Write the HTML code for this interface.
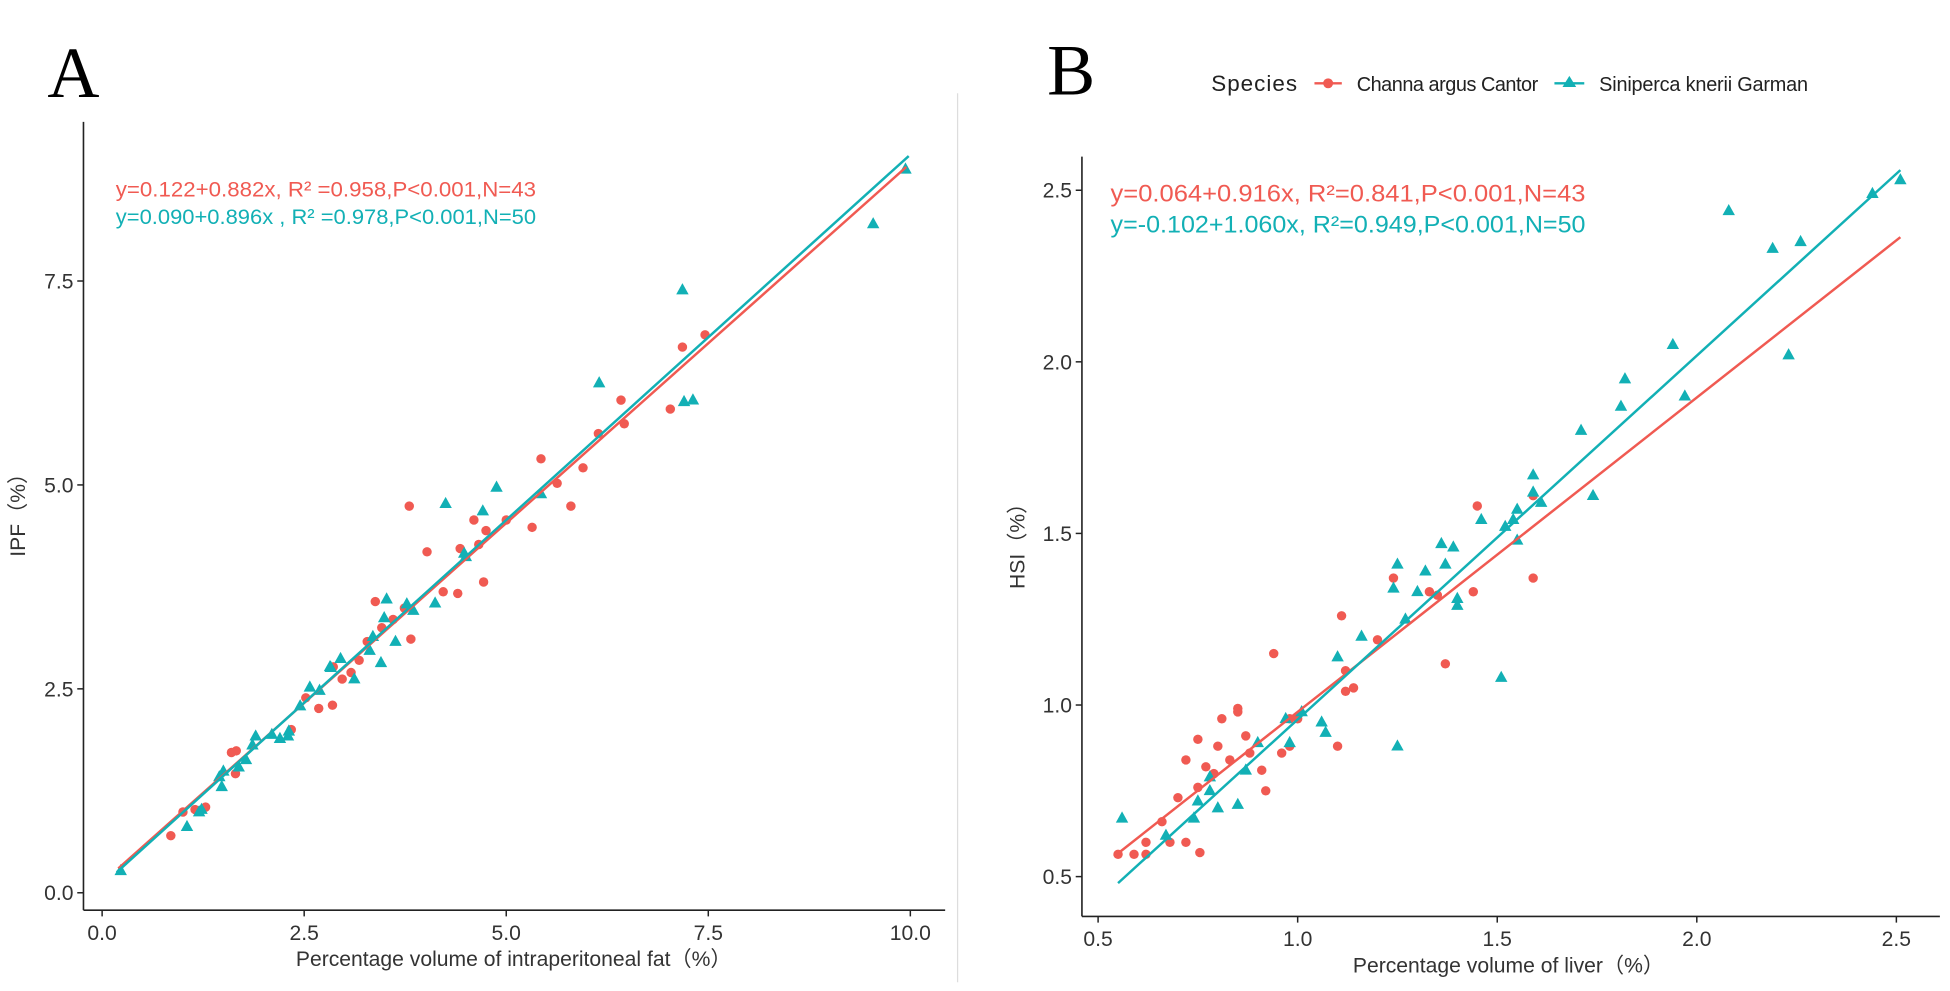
<!DOCTYPE html>
<html><head><meta charset="utf-8"><style>
html,body{margin:0;padding:0;background:#fff;width:1950px;height:991px;overflow:hidden}
svg{display:block;font-family:"Liberation Sans",sans-serif}
</style></head><body>
<svg id="chart" width="1950" height="991" viewBox="0 0 1568 797">
<line x1="770" y1="75" x2="770" y2="790" stroke="#ddd" stroke-width="1"/>
<text x="38" y="78" font-family="Liberation Serif,serif" font-size="58">A</text>
<text x="842" y="76" font-family="Liberation Serif,serif" font-size="58">B</text>
<g>
<text x="974" y="73" font-size="18" fill="#222" textLength="69">Species</text>
<g><line x1="1057" y1="67" x2="1079" y2="67" stroke="#F05A52" stroke-width="2"/><circle cx="1068" cy="67" r="4" fill="#F05A52"/><text x="1091" y="73" font-size="16" fill="#222" textLength="146">Channa argus Cantor</text></g>
<g><line x1="1250" y1="67" x2="1274" y2="67" stroke="#12B0B5" stroke-width="2"/><path d="M1262,61 L1267.5,70 L1256.5,70Z" fill="#12B0B5"/><text x="1286" y="73" font-size="16" fill="#222" textLength="168">Siniperca knerii Garman</text></g>
</g>
<g id="pa"></g>
<g id="pb"></g>
</svg>
<script>
const aXTicks=[0,2.5,5,7.5,10];
const aXTickLabels=["0.0","2.5","5.0","7.5","10.0"];
const aYTicks=[0,2.5,5,7.5];
const aYTickLabels=["0.0","2.5","5.0","7.5"];
const aRedX=[0.85,1.0,1.15,1.28,1.6,1.66,1.65,2.34,2.68,2.85,2.86,2.97,3.08,3.28,3.38,3.46,3.6,3.82,3.8,4.02,4.22,4.4,4.43,4.6,4.66,4.72,4.75,5.0,5.32,5.43,5.63,5.8,5.95,6.14,6.42,6.46,7.03,7.18,7.46,2.52,3.74,3.18];
const aRedY=[0.70,0.99,1.02,1.05,1.72,1.74,1.46,2.0,2.26,2.30,2.77,2.62,2.7,3.08,3.57,3.25,3.35,3.11,4.74,4.18,3.69,3.67,4.22,4.57,4.27,3.81,4.44,4.57,4.48,5.32,5.02,4.74,5.21,5.63,6.04,5.75,5.93,6.69,6.84,2.39,3.49,2.85];
const aTealX=[0.23,1.05,1.2,1.48,1.5,1.78,1.86,1.9,2.1,2.31,2.45,2.57,2.69,2.83,2.95,3.12,3.31,3.45,3.49,3.52,3.63,3.77,3.85,4.12,4.25,4.48,4.71,4.88,5.43,6.15,7.18,7.2,7.31,9.54,9.94,1.69,1.45,1.23,2.2,2.82,3.35,4.5,2.3];
const aTealY=[0.27,0.81,0.99,1.3,1.49,1.63,1.81,1.92,1.94,1.98,2.29,2.52,2.48,2.76,2.87,2.62,2.97,2.82,3.37,3.6,3.08,3.54,3.46,3.55,4.77,4.16,4.68,4.97,4.89,6.25,7.39,6.02,6.04,8.2,8.87,1.54,1.42,1.02,1.89,2.77,3.14,4.12,1.92];
const aRedFit=[0.122,0.882,0.2,9.95];
const aTealFit=[0.090,0.896,0.18,9.98];

const bXTicks=[0.5,1.0,1.5,2.0,2.5];
const bXTickLabels=["0.5","1.0","1.5","2.0","2.5"];
const bYTicks=[0.5,1.0,1.5,2.0,2.5];
const bYTickLabels=["0.5","1.0","1.5","2.0","2.5"];
const bRedX=[0.55,0.59,0.62,0.62,0.66,0.70,0.68,0.72,0.72,0.75,0.755,0.75,0.77,0.80,0.79,0.81,0.83,0.85,0.87,0.88,0.91,0.92,0.94,0.96,0.98,1.0,1.12,1.11,1.12,1.14,1.2,1.24,1.33,1.35,1.37,1.44,1.45,1.59,1.59,1.1,0.85,0.98];
const bRedY=[0.565,0.565,0.565,0.6,0.66,0.73,0.6,0.6,0.84,0.76,0.57,0.9,0.82,0.88,0.80,0.96,0.84,0.98,0.91,0.86,0.81,0.75,1.15,0.86,0.88,0.96,1.1,1.26,1.04,1.05,1.19,1.37,1.33,1.32,1.12,1.33,1.58,1.37,1.61,0.88,0.99,0.96];
const bTealX=[0.56,0.67,0.74,0.75,0.78,0.78,0.85,0.87,0.90,0.98,0.97,1.01,1.06,1.07,1.10,1.16,1.24,1.25,1.27,1.3,1.32,1.36,1.37,1.39,1.4,1.4,1.46,1.51,1.52,1.54,1.55,1.55,1.59,1.59,1.61,1.71,1.74,1.81,1.82,1.94,1.97,2.08,2.19,2.23,2.26,2.44,2.51,1.25,0.8];
const bTealY=[0.67,0.62,0.67,0.72,0.79,0.75,0.71,0.81,0.89,0.89,0.96,0.98,0.95,0.92,1.14,1.2,1.34,1.41,1.25,1.33,1.39,1.47,1.41,1.46,1.31,1.29,1.54,1.08,1.52,1.54,1.48,1.57,1.62,1.67,1.59,1.80,1.61,1.87,1.95,2.05,1.90,2.44,2.33,2.02,2.35,2.49,2.53,0.88,0.70];
const bRedFit=[0.064,0.916,0.54,2.51];
const bTealFit=[-0.102,1.060,0.55,2.51];

const RED="#F05A52",TEAL="#12B0B5",NS="http://www.w3.org/2000/svg";
function mk(parent,tag,attrs){const e=document.createElementNS(NS,tag);for(const k in attrs)e.setAttribute(k,attrs[k]);parent.appendChild(e);return e;}

function panel(g,cfg){
  const sx=v=>cfg.x0+(v-cfg.xmin)*cfg.xs, sy=v=>cfg.y0-(v-cfg.ymin)*cfg.ys;
  let e=mk(g,'line',{x1:cfg.ax,y1:cfg.ytop,x2:cfg.ax,y2:cfg.ay,stroke:'#222','stroke-width':1.3});
  
  
  e=mk(g,'line',{x1:cfg.ax,y1:cfg.ay,x2:cfg.xright,y2:cfg.ay,stroke:'#222','stroke-width':1.3});
  
  
  cfg.xt.forEach((v,i)=>{
    mk(g,'line',{x1:sx(v),y1:cfg.ay,x2:sx(v),y2:cfg.ay+5,stroke:'#222','stroke-width':1.2});
    const t=mk(g,'text',{x:sx(v),y:cfg.ay+24,'text-anchor':'middle','font-size':17,fill:'#333'});
    t.textContent=cfg.xl[i];
    
    
  });
  cfg.yt.forEach((v,i)=>{
    mk(g,'line',{x1:cfg.ax-5,y1:sy(v),x2:cfg.ax,y2:sy(v),stroke:'#222','stroke-width':1.2});
    const t=mk(g,'text',{x:cfg.ax-8,y:sy(v)+6,'text-anchor':'end','font-size':17,fill:'#333'});
    t.textContent=cfg.yl[i];
    
    
  });
  let t=mk(g,'text',{x:cfg.xtx,y:cfg.xty,'text-anchor':'middle','font-size':17,fill:'#333'});
  t.textContent=cfg.xtitle;
  
  
  t=mk(g,'text',{x:0,y:0,'text-anchor':'middle','font-size':17,fill:'#333',transform:`translate(${cfg.ytx},${cfg.yty}) rotate(-90)`});
  t.textContent=cfg.ytitle;
  
  
  const pts=(X,Y,col,tri,name)=>X.forEach((x,i)=>{
    const cx=sx(x),cy=sy(Y[i]);let p;
    if(tri)p=mk(g,'path',{d:`M${cx},${cy-5.5}L${cx+5},${cy+3.5}L${cx-5},${cy+3.5}Z`,fill:col});
    else p=mk(g,'circle',{cx:cx,cy:cy,r:3.8,fill:col});
    
    
  });
  pts(cfg.rx,cfg.ry,RED,false,'point-channa');
  pts(cfg.tx,cfg.ty,TEAL,true,'point-siniperca');
  const fit=(f,col,name)=>{
    const l=mk(g,'line',{x1:sx(f[2]),y1:sy(f[0]+f[1]*f[2]),x2:sx(f[3]),y2:sy(f[0]+f[1]*f[3]),stroke:col,'stroke-width':2});
    
    
  };
  fit(cfg.rf,RED,'fit-line-channa');
  fit(cfg.tf,TEAL,'fit-line-siniperca');
  cfg.eq.forEach((q,i)=>{
    const e=mk(g,'text',{x:cfg.eqx,y:cfg.eqy+i*cfg.eqdy,'font-size':cfg.eqfs,fill:i?TEAL:RED,textLength:cfg.eqw,lengthAdjust:'spacingAndGlyphs'});
    e.textContent=q;
    
    
  });
}
panel(document.getElementById('pa'),{x0:82,xmin:0,xs:65,y0:718,ymin:0,ys:65.6,ax:67,ay:732,ytop:98,xright:760,
  xt:aXTicks,xl:aXTickLabels,yt:aYTicks,yl:aYTickLabels,xtitle:"Percentage volume of intraperitoneal fat（%）",xtx:413,xty:777,
  ytitle:"IPF（%）",ytx:20,yty:410,rx:aRedX,ry:aRedY,tx:aTealX,ty:aTealY,rf:aRedFit,tf:aTealFit,
  eq:["y=0.122+0.882x, R² =0.958,P<0.001,N=43","y=0.090+0.896x , R² =0.978,P<0.001,N=50"],eqx:93,eqy:158,eqdy:22,eqfs:17,eqw:338});
panel(document.getElementById('pb'),{x0:883,xmin:0.5,xs:321,y0:705,ymin:0.5,ys:276,ax:870,ay:737,ytop:126,xright:1560,
  xt:bXTicks,xl:bXTickLabels,yt:bYTicks,yl:bYTickLabels,xtitle:"Percentage volume of liver（%）",xtx:1213,xty:782,
  ytitle:"HSI（%）",ytx:824,yty:435,rx:bRedX,ry:bRedY,tx:bTealX,ty:bTealY,rf:bRedFit,tf:bTealFit,
  eq:["y=0.064+0.916x, R²=0.841,P<0.001,N=43","y=-0.102+1.060x, R²=0.949,P<0.001,N=50"],eqx:893,eqy:162,eqdy:25,eqfs:19,eqw:382});
</script>
</body></html>
